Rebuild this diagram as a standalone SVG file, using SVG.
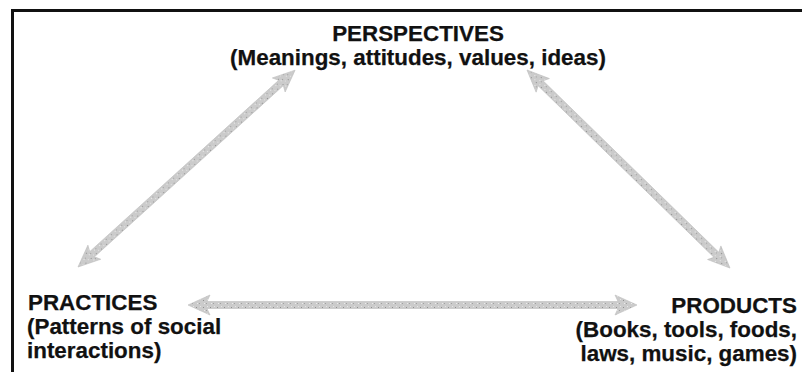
<svg xmlns="http://www.w3.org/2000/svg" width="802" height="372" viewBox="0 0 802 372">
  <style>
    .t { font-family: "Liberation Sans", Arial, sans-serif; font-weight: bold; font-size: 22.4px; fill: #111111; stroke: #111111; stroke-width: 0.25; }
    .arrow { fill: url(#stipple); stroke: #bdbdbd; stroke-width: 0.6; }
  </style>
  <defs>
    <pattern id="stipple" width="7" height="7" patternUnits="userSpaceOnUse">
      <rect width="7" height="7" fill="#cbcbcb"/>
      <rect x="1" y="2" width="1" height="1" fill="#8f8f8f"/>
      <rect x="4" y="5" width="1" height="1" fill="#a0a0a0"/>
      <rect x="5" y="1" width="1" height="1" fill="#e6e6e6"/>
      <rect x="2" y="5" width="1" height="1" fill="#ececec"/>
    </pattern>
  </defs>
  <rect width="802" height="372" fill="#ffffff"/>
  <path d="M12.5,372 V10.5 H802" fill="none" stroke="#111" stroke-width="3"/>

  <g id="connectors">
    <path class="arrow" transform="translate(78,267) rotate(-42.2)" d="M0,0 L22,-9.5 L19,-3.5 L274,-3.5 L271,-9.5 L293,0 L271,9.5 L274,3.5 L19,3.5 L22,9.5 Z"/>
    <path class="arrow" transform="translate(527,70) rotate(44.3)" d="M0,0 L22,-9.5 L19,-3.5 L264.6,-3.5 L261.6,-9.5 L283.6,0 L261.6,9.5 L264.6,3.5 L19,3.5 L22,9.5 Z"/>
    <path class="arrow" transform="translate(188,305)" d="M0,0 L22,-10 L19,-3.5 L430,-3.5 L427,-10 L449,0 L427,10 L430,3.5 L19,3.5 L22,10 Z"/>
  </g>

  <g id="perspectives">
    <text class="t" x="418" y="41" text-anchor="middle">PERSPECTIVES</text>
    <text class="t" x="418" y="65" text-anchor="middle">(Meanings, attitudes, values, ideas)</text>
  </g>

  <g id="practices">
    <text class="t" x="28" y="310">PRACTICES</text>
    <text class="t" x="27" y="334">(Patterns of social</text>
    <text class="t" x="27" y="358">interactions)</text>
  </g>

  <g id="products">
    <text class="t" x="797" y="313" text-anchor="end">PRODUCTS</text>
    <text class="t" x="797" y="337" text-anchor="end">(Books, tools, foods,</text>
    <text class="t" x="797" y="361" text-anchor="end">laws, music, games)</text>
  </g>
</svg>
